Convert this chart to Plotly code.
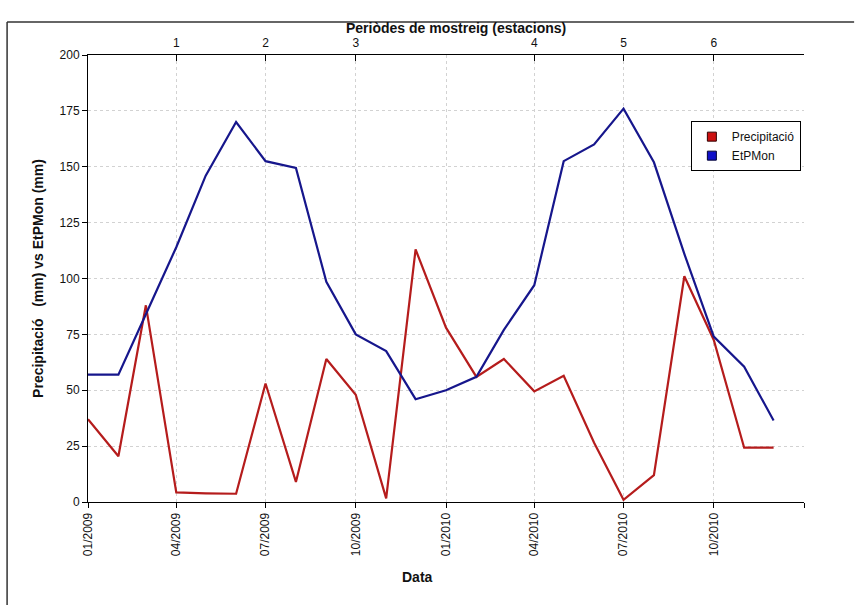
import plotly.graph_objects as go

# Monthly series, January 2009 - December 2010
months = [f"{y}-{m:02d}-01" for y in (2009, 2010) for m in range(1, 13)]

precipitacio = [37, 20.5, 88, 4.3, 3.9, 3.7, 53, 9, 64, 48, 1.6, 113,
                78, 56, 64, 49.5, 56.5, 26.5, 1, 12, 101, 72.5, 24.3, 24.3]
etpmon = [57, 57, 84, 114, 146, 170, 152.5, 149.5, 98.5, 75, 67.5, 46,
          50, 56, 77, 97, 152.5, 160, 176, 152, 111, 74, 60.5, 36.5]

# Bottom axis ticks (quarterly)
date_ticks = ["2009-01-01", "2009-04-01", "2009-07-01", "2009-10-01", "2010-01-01",
              "2010-04-01", "2010-07-01", "2010-10-01", "2011-01-01"]
date_labels = ["01/2009", "04/2009", "07/2009", "10/2009", "01/2010",
               "04/2010", "07/2010", "10/2010", ""]

# Top axis: sampling periods (seasons)
period_ticks = ["2009-04-01", "2009-07-01", "2009-10-01",
                "2010-04-01", "2010-07-01", "2010-10-01"]
period_labels = ["1", "2", "3", "4", "5", "6"]

RED = "#b51c1c"
BLUE = "#16168c"
FONT = "Liberation Sans, Arial, sans-serif"

fig = go.Figure()
fig.add_trace(go.Scatter(x=months, y=precipitacio, mode="lines",
                         line=dict(color=RED, width=2.2), showlegend=False))
fig.add_trace(go.Scatter(x=months, y=etpmon, mode="lines",
                         line=dict(color=BLUE, width=2.2), showlegend=False))

# Legend entries with square swatches
fig.add_trace(go.Scatter(x=[None], y=[None], mode="markers", name="Precipitació",
                         marker=dict(symbol="square", size=9, color="#cc1010",
                                     line=dict(color="#300000", width=1))))
fig.add_trace(go.Scatter(x=[None], y=[None], mode="markers", name="EtPMon",
                         marker=dict(symbol="square", size=9, color="#1010c8",
                                     line=dict(color="#000030", width=1))))

# Invisible trace bound to the top axis so it renders
fig.add_trace(go.Scatter(x=[months[0]], y=[None], xaxis="x2", mode="lines",
                         showlegend=False, hoverinfo="skip"))

x_range = ["2009-01-01", "2011-01-01"]
grid = dict(showgrid=True, gridcolor="#d2d2d2", griddash="3px,3px", gridwidth=1)

fig.update_layout(
    width=862, height=605,
    margin=dict(l=88, r=58, t=55, b=103),
    paper_bgcolor="white", plot_bgcolor="white",
    font=dict(family=FONT, size=12, color="#111111"),
    xaxis=dict(
        type="date", range=x_range, tickmode="array",
        tickvals=date_ticks, ticktext=date_labels, tickangle=-90,
        ticks="outside", ticklen=5, tickcolor="#000", showline=True,
        linecolor="#000", linewidth=1, mirror=False, zeroline=False,
        **grid,
    ),
    xaxis2=dict(
        type="date", range=x_range, overlaying="x", side="top",
        tickmode="array", tickvals=period_ticks, ticktext=period_labels,
        ticks="inside", ticklen=6, tickcolor="#000", showline=True,
        linecolor="#000", linewidth=1, showgrid=False, zeroline=False,
        ticklabelstandoff=2,
    ),
    yaxis=dict(
        range=[0, 200], tickmode="linear", tick0=0, dtick=25,
        ticks="outside", ticklen=5, tickcolor="#000", showline=True,
        linecolor="#000", linewidth=1, zeroline=False,
        title=dict(text="<b>Precipitació   (mm) vs EtPMon (mm)</b>",
                   font=dict(size=14), standoff=12),
        **grid,
    ),
    legend=dict(x=0.842, y=0.852, xanchor="left", yanchor="top",
                bgcolor="white", bordercolor="#000", borderwidth=1,
                font=dict(size=12), itemwidth=30, tracegroupgap=0),
    annotations=[
        dict(text="<b>Periòdes de mostreig (estacions)</b>", xref="paper",
             yref="paper", x=0.514, y=1.0593, xanchor="center", yanchor="middle",
             showarrow=False, font=dict(size=14)),
        dict(text="<b>Data</b>", xref="paper", yref="paper", x=0.46, y=-0.168,
             xanchor="center", yanchor="middle", showarrow=False,
             font=dict(size=14)),
    ],
    shapes=[
        dict(type="line", xref="paper", yref="paper", x0=-0.113, x1=-0.113,
             y0=1.074, y1=-0.25, line=dict(color="#333", width=1.5)),
        dict(type="line", xref="paper", yref="paper", x0=-0.113, x1=1.07,
             y0=1.074, y1=1.074, line=dict(color="#333", width=1.5)),
    ],
)

fig.write_html("out.html")
